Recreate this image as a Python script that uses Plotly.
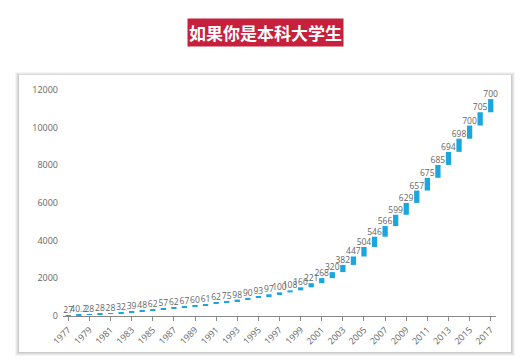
import plotly.graph_objects as go

years = list(range(1977, 2018))
admitted = [27, 40.2, 28, 28, 28, 32, 39, 48, 62, 57,
            62, 67, 60, 61, 62, 75, 98, 90, 93, 97,
            100, 108, 160, 221, 268, 320, 382, 447, 504, 546,
            566, 599, 629, 657, 675, 685, 694, 698, 700, 705,
            700]
labels = [("%g" % v) for v in admitted]
title_text = "如果你是本科大学生"
y_ticks = [0, 2000, 4000, 6000, 8000, 10000, 12000]
x_ticks = list(range(1977, 2018, 2))

BLUE = "#1BA6DE"

fig = go.Figure()
fig.add_trace(go.Waterfall(
    x=years,
    y=admitted,
    measure=["relative"] * len(admitted),
    text=labels,
    textposition="outside",
    constraintext="none",
    cliponaxis=False,
    textfont=dict(size=8.5, color="#666666", family="Open Sans"),
    increasing=dict(marker=dict(color=BLUE)),
    decreasing=dict(marker=dict(color=BLUE)),
    connector=dict(visible=False),
    width=0.5,
    hoverinfo="skip",
))

L, R, T, B = 63, 31, 90, 48
pw = 527 - L - R
ph = 364 - T - B

def px(x):
    return (x - L) / pw

def py(y):
    return (364 - B - y) / ph

shapes = []
# soft card shadow
for i, op in enumerate([0.04, 0.05, 0.06, 0.07]):
    d = 4 - i
    shapes.append(dict(type="rect", xref="paper", yref="paper",
                       x0=px(19 - d), x1=px(511 + d), y0=py(352 + d), y1=py(75 - d + 1),
                       fillcolor="rgba(0,0,0,%s)" % op, line=dict(width=0), layer="below"))
shapes.append(dict(type="rect", xref="paper", yref="paper",
                   x0=px(19), x1=px(511), y0=py(352), y1=py(75),
                   fillcolor="white", line=dict(width=0), layer="below"))

fig.update_layout(
    width=527, height=364,
    margin=dict(l=L, r=R, t=T, b=B, autoexpand=False),
    paper_bgcolor="white",
    plot_bgcolor="rgba(0,0,0,0)",
    showlegend=False,
    shapes=shapes,
    font=dict(family="Open Sans", color="#666666"),
    annotations=[dict(
        text="<b>" + title_text + "</b>", xref="paper", yref="paper",
        x=px(265), y=py(32), xanchor="center", yanchor="middle",
        showarrow=False, bgcolor="#C6203D", borderpad=1,
        font=dict(family="Noto Sans CJK SC", size=17, color="white"),
    )],
    xaxis=dict(
        range=[1976.5, 2017.5], tickvals=x_ticks, ticktext=[str(t) for t in x_ticks],
        tickangle=-45, showgrid=False, zeroline=False, automargin=False,
        showline=True, linecolor="#888888", linewidth=1,
        ticks="outside", ticklen=4, tickcolor="#888888",
        tickfont=dict(size=9, color="#666666"),
    ),
    yaxis=dict(
        range=[0, 12000], tickvals=y_ticks, ticktext=[str(t) for t in y_ticks],
        showgrid=False, zeroline=False, automargin=False,
        showline=False, ticks="", tickfont=dict(size=9, color="#666666"),
        ticklabelstandoff=4,
    ),
)

fig.write_html("out.html", config={"displayModeBar": False},
               post_script="document.body.style.margin='0';document.body.style.overflow='hidden';")
